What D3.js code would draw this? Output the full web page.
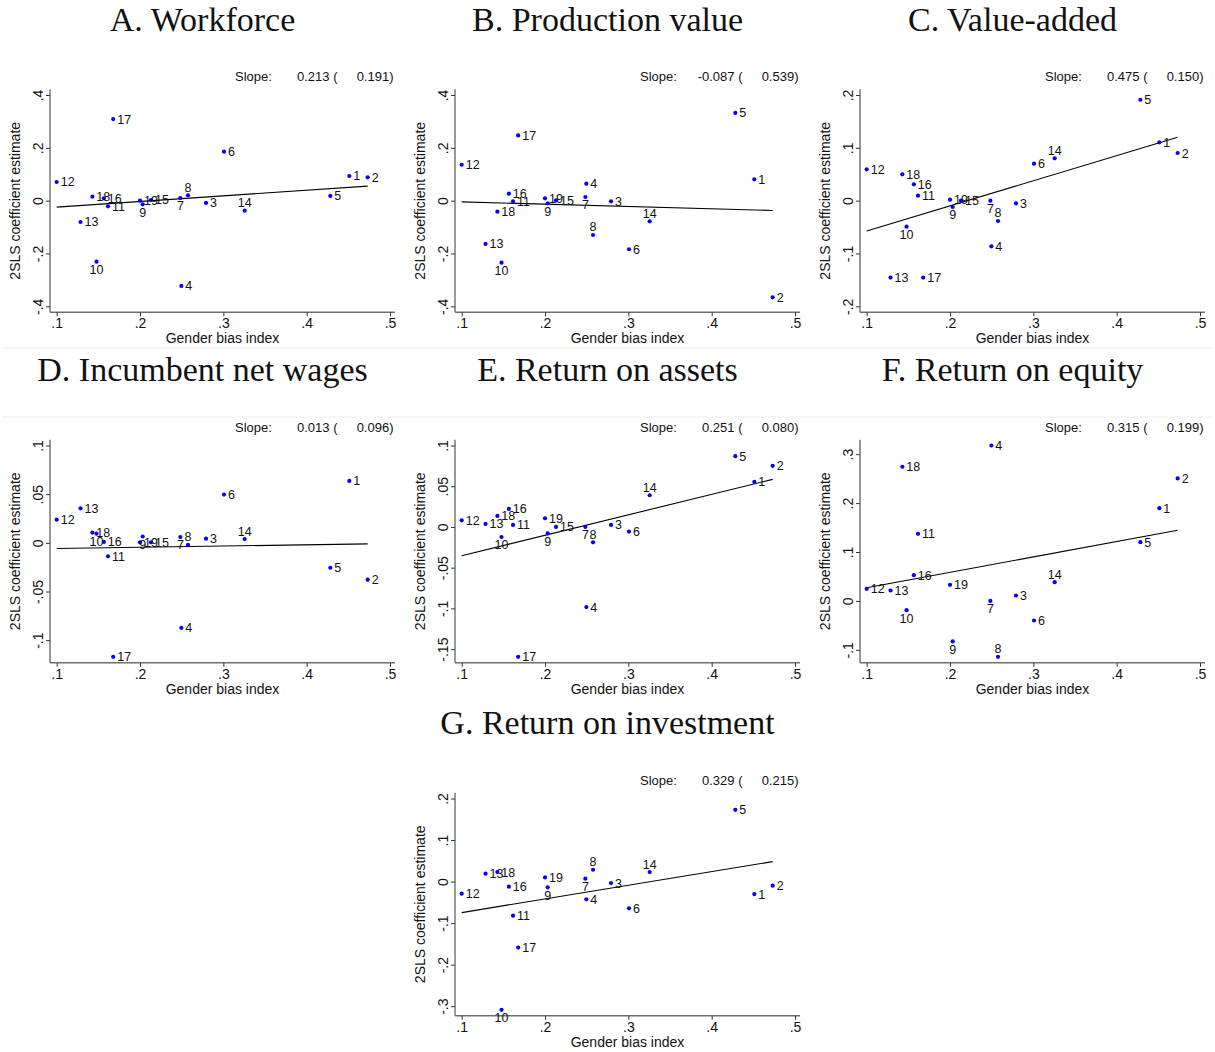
<!DOCTYPE html>
<html>
<head>
<meta charset="utf-8">
<script src="https://cdn.jsdelivr.net/npm/d3@7"></script>
<style>
  html, body { margin: 0; padding: 0; background: #fff; }
  svg { display: block; }
</style>
</head>
<body>
<svg id="chart" width="1215" height="1052"></svg>
<script>
// ---------------- DATA ----------------
const unitIds = [1,2,3,4,5,6,7,8,9,10,11,12,13,14,15,16,17,18,19];
const genderBias = [0.4512,0.4732,0.2792,0.2496,0.4284,0.3008,0.2484,0.2576,0.2032,0.1478,0.1616,0.1000,0.1286,0.3256,0.2132,0.1566,0.1678,0.1428,0.2000];

const panelTitles = ["A. Workforce","B. Production value","C. Value-added","D. Incumbent net wages","E. Return on assets","F. Return on equity","G. Return on investment"];

const workforce   = [0.0934,0.0883,-0.0088,-0.323,0.0177,0.1855,0.0101,0.0202,-0.0139,-0.231,-0.0215,0.0707,-0.0808,-0.0379,0.0025,0.0088,0.309,0.0151,0.0];
const production  = [0.0808,-0.366,-0.0025,0.0644,0.332,-0.184,0.0139,-0.130,-0.0101,-0.235,-0.0025,0.136,-0.164,-0.0782,0.0013,0.0265,0.247,-0.0416,0.0088];
const valueAdded  = [0.1104,0.0902,-0.005,-0.0864,0.191,0.070,0.0,-0.0385,-0.012,-0.0492,0.0095,0.0593,-0.1457,0.0801,0.0,0.0309,-0.1457,0.0498,0.0019];
const netWages    = [0.0636,-0.0379,0.0043,-0.0873,-0.0256,0.0496,0.006,-0.0022,0.0065,0.0094,-0.0139,0.0238,0.0355,0.0039,0.0005,0.0009,-0.1171,0.0105,0.0005];
const returnAssets= [0.0553,0.075,0.0025,-0.0984,0.0869,-0.0057,0.0,-0.0189,-0.0078,-0.0123,0.0025,0.0082,0.0037,0.0389,0.0,0.0221,-0.1594,0.0135,0.0107];
const returnEquity= [0.1896,0.2503,0.0111,0.3177,0.1201,-0.040,0.0,-0.1142,-0.0828,-0.019,0.1372,0.0247,0.0213,0.0383,null,0.0527,null,0.2743,0.0329];
const returnInvest= [-0.030,-0.0099,-0.0035,-0.0428,0.1727,-0.0644,0.0069,0.0285,-0.0139,-0.3087,-0.082,-0.0292,0.0189,0.0229,null,-0.0123,-0.159,0.0229,0.0101];

const slopes     = [0.213,-0.087,0.475,0.013,0.251,0.315,0.329];
const slopeLabel = ["0.213","-0.087","0.475","0.013","0.251","0.315","0.329"];
const seLabel    = ["0.191","0.539","0.150","0.096","0.080","0.199","0.215"];
const intercepts = [-0.0458,0.0041,-0.1049,-0.0072,-0.0604,-0.0046,-0.1076];

const yTicks = [
  [-0.4,-0.2,0,0.2,0.4],
  [-0.4,-0.2,0,0.2,0.4],
  [-0.2,-0.1,0,0.1,0.2],
  [-0.1,-0.05,0,0.05,0.1],
  [-0.15,-0.1,-0.05,0,0.05,0.1],
  [-0.1,0,0.1,0.2,0.3],
  [-0.3,-0.2,-0.1,0,0.1,0.2]
];
const xTicks = [0.1,0.2,0.3,0.4,0.5];
const xTitle = "Gender bias index";
const yTitle = "2SLS coefficient estimate";

// label placement (Stata mlabvposition)
const labelsBelow = [7,9,10];
const labelsAbove = [8,14];

const seriesList = [workforce, production, valueAdded, netWages, returnAssets, returnEquity, returnInvest];

// ---------------- LAYOUT ----------------
const colOffsets = [0,405,810];
const rowOffsets = [0,350.5,703.5];
const panelPos = [[0,0],[1,0],[2,0],[0,1],[1,1],[2,1],[1,2]];

const box = {left:50, right:395, top:89.3, bottom:312.3};
const xRange = [56.7, 390];
const yRange = [306.3, 95];

const sans = "'Liberation Sans', Arial, Helvetica, sans-serif";
const serif = "'Liberation Serif', 'Times New Roman', serif";

const svg = d3.select("#chart");
svg.append("rect").attr("width",1215).attr("height",1052).attr("fill","#fff");

// faint frame lines seen around the second row
[348, 417].forEach(yy => {
  svg.append("line").attr("x1",2).attr("x2",1213).attr("y1",yy).attr("y2",yy)
    .attr("stroke","#efefef").attr("stroke-width",1);
});

function fmtStata(v){
  if (Math.abs(v) < 1e-12) return "0";
  let s = String(+v.toFixed(4));
  s = s.replace(/^0\./, ".").replace(/^-0\./, "-.");
  return s;
}

seriesList.forEach((vals, i) => {
  const [c, r] = panelPos[i];
  const g = svg.append("g").attr("transform", `translate(${colOffsets[c]},${rowOffsets[r]})`);

  const pts = unitIds.map((id, k) => ({id, x: genderBias[k], y: vals[k]})).filter(d => d.y !== null);

  const x = d3.scaleLinear().domain([0.1, 0.5]).range(xRange);
  const yExt = d3.extent(pts.map(d => d.y).concat(yTicks[i]));
  const y = d3.scaleLinear().domain(yExt).range(yRange);

  // title
  g.append("text").attr("x",202.5).attr("y",30.5).attr("text-anchor","middle")
    .attr("font-family",serif).attr("font-size",34).attr("fill","#111").text(panelTitles[i]);

  // slope note
  const note = g.append("g").attr("font-family",sans).attr("font-size",13).attr("fill","#111");
  note.append("text").attr("x",235).attr("y",81).text("Slope:");
  note.append("text").attr("x",337.5).attr("y",81).attr("text-anchor","end").text(slopeLabel[i] + " (");
  note.append("text").attr("x",393.5).attr("y",81).attr("text-anchor","end").text(seLabel[i] + ")");

  // axes lines
  g.append("line").attr("x1",box.left).attr("x2",box.left).attr("y1",box.top).attr("y2",box.bottom)
    .attr("stroke","#6e6e6e").attr("stroke-width",1.4);
  g.append("line").attr("x1",box.left).attr("x2",box.right).attr("y1",box.bottom).attr("y2",box.bottom)
    .attr("stroke","#6e6e6e").attr("stroke-width",1.4);

  // y axis
  const ya = g.append("g").attr("transform",`translate(${box.left},0)`)
    .call(d3.axisLeft(y).tickValues(yTicks[i]).tickFormat(fmtStata).tickSizeOuter(0).tickSizeInner(4));
  ya.select(".domain").remove();
  ya.selectAll(".tick line").attr("stroke","#333").attr("stroke-width",1);
  ya.selectAll(".tick text")
    .attr("x",null).attr("dy",null)
    .attr("transform","translate(-7,0) rotate(-90)")
    .attr("text-anchor","middle")
    .attr("font-family",sans).attr("font-size",14).attr("fill","#111");

  // x axis
  const xa = g.append("g").attr("transform",`translate(0,${box.bottom})`)
    .call(d3.axisBottom(x).tickValues(xTicks).tickFormat(fmtStata).tickSizeOuter(0).tickSizeInner(4).tickPadding(2));
  xa.select(".domain").remove();
  xa.selectAll(".tick line").attr("stroke","#333").attr("stroke-width",1);
  xa.selectAll(".tick text").attr("font-family",sans).attr("font-size",14).attr("fill","#111");

  // axis titles
  g.append("text").attr("x",(box.left+box.right)/2).attr("y",343.3).attr("text-anchor","middle")
    .attr("font-family",sans).attr("font-size",14).attr("fill","#111").text(xTitle);
  g.append("text").attr("transform",`translate(20,${(box.top+box.bottom)/2}) rotate(-90)`)
    .attr("text-anchor","middle").attr("font-family",sans).attr("font-size",14).attr("fill","#111").text(yTitle);

  // fitted line
  const xe = d3.extent(genderBias);
  const line = d3.line().x(d => x(d)).y(d => y(intercepts[i] + slopes[i]*d));
  g.append("path").datum(xe).attr("d", line).attr("fill","none").attr("stroke","#000").attr("stroke-width",1.1);

  // points
  g.append("g").selectAll("circle").data(pts).join("circle")
    .attr("cx", d => x(d.x)).attr("cy", d => y(d.y)).attr("r", 2.1).attr("fill","#0000ff");

  // labels
  g.append("g").attr("font-family",sans).attr("font-size",12.5).attr("fill","#111")
    .selectAll("text").data(pts).join("text")
    .attr("x", d => (labelsBelow.includes(d.id) || labelsAbove.includes(d.id)) ? x(d.x) : x(d.x) + 4)
    .attr("y", d => labelsBelow.includes(d.id) ? y(d.y) + 12.5 : labelsAbove.includes(d.id) ? y(d.y) - 3.5 : y(d.y) + 4.5)
    .attr("text-anchor", d => (labelsBelow.includes(d.id) || labelsAbove.includes(d.id)) ? "middle" : "start")
    .text(d => d.id);
});
</script>
</body>
</html>
